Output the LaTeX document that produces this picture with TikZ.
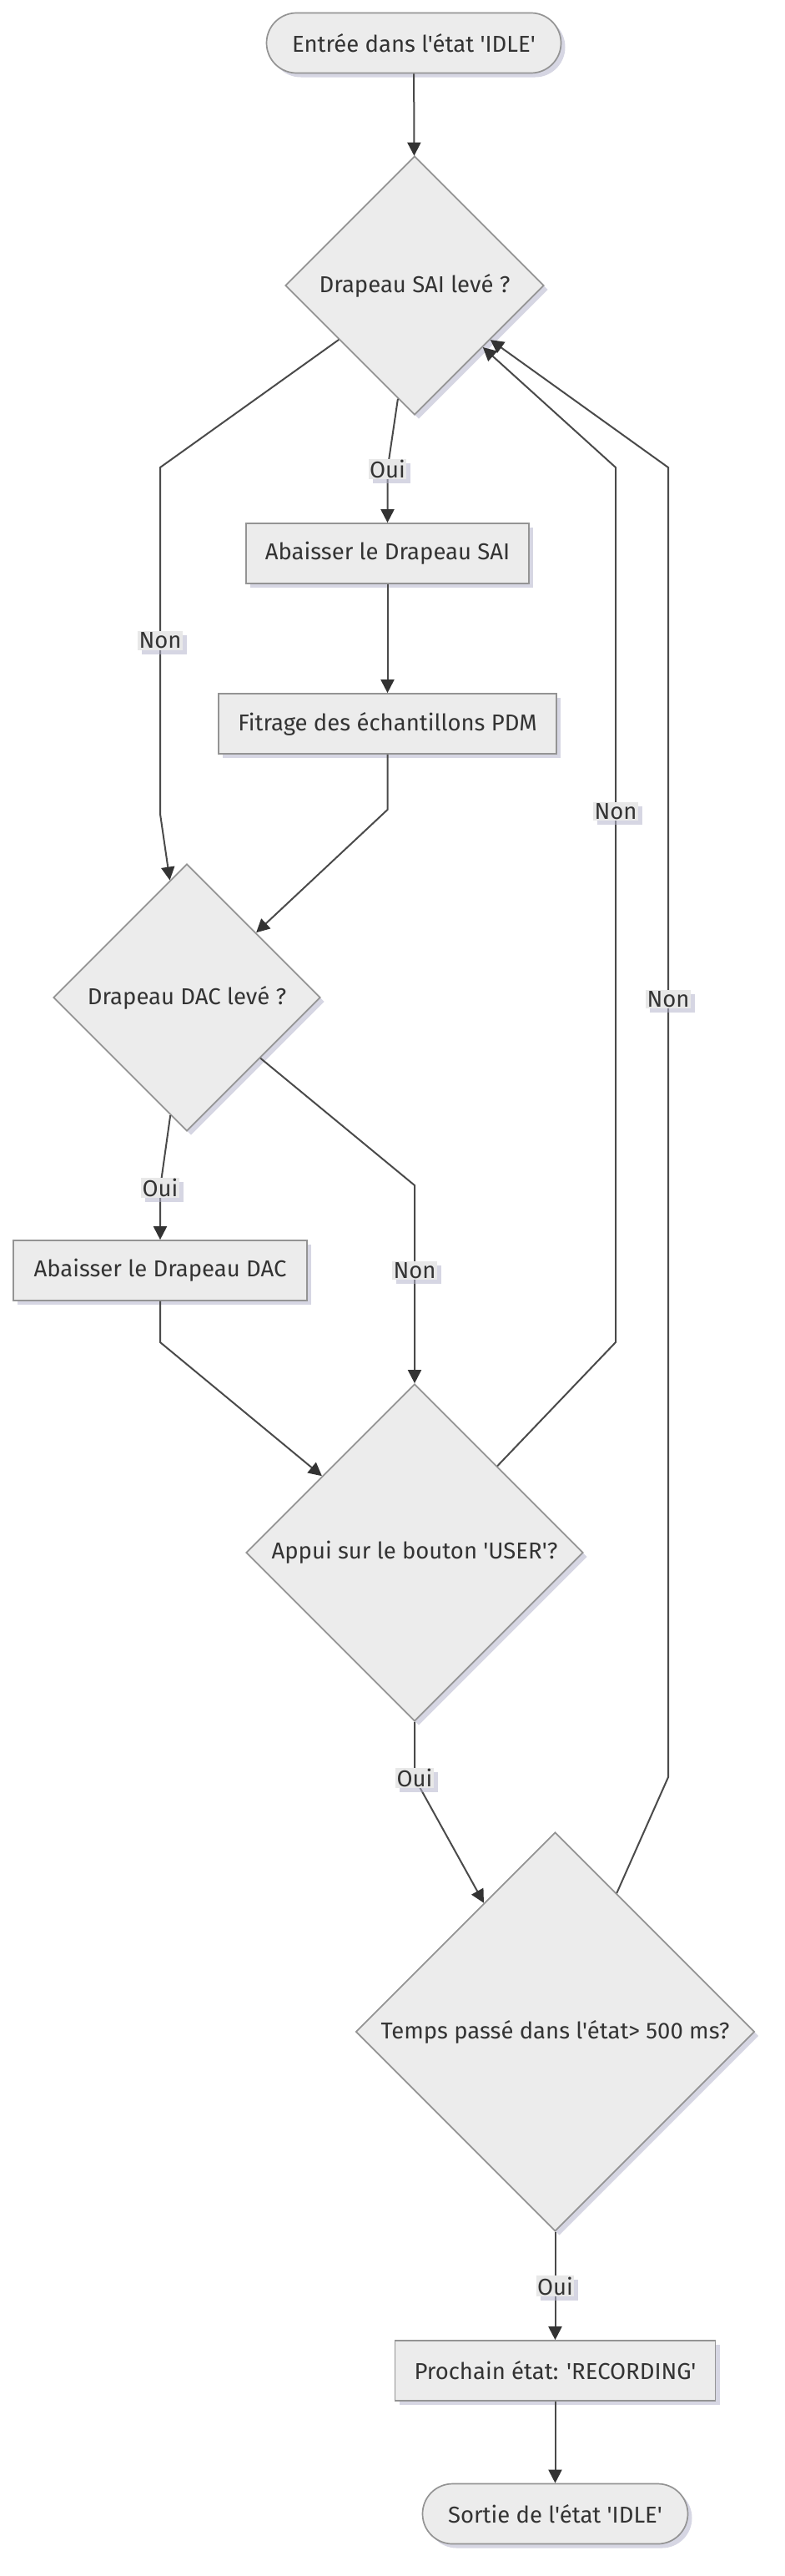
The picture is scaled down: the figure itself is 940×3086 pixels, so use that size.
\documentclass[tikz,border=0pt]{standalone}
\usepackage{fontspec}
\setmainfont{Fira Sans}[Ligatures=TeXOff]
\usepackage{tikz}
\usetikzlibrary{shapes,arrows.meta,positioning,shadows}

\definecolor{nodefill}{HTML}{ECECEC}
\definecolor{nodedraw}{HTML}{949494}
\definecolor{edgecol}{HTML}{4A4A4A}
\definecolor{tipcol}{HTML}{333333}
\definecolor{txtcol}{HTML}{333333}
\definecolor{shade}{HTML}{B4B4CC}
\definecolor{lblfill}{HTML}{E8E8E8}

\begin{document}
\begin{tikzpicture}[
    x=1pt, y=-1pt,
    font=\fontsize{27.5}{32}\selectfont,
    shady/.style={drop shadow={shadow xshift=5pt, shadow yshift=-5pt, fill=shade, opacity=0.55}},
    box/.style={rectangle, draw=nodedraw, fill=nodefill, line width=1.7pt, text=txtcol, minimum height=72pt, shady},
    terminal/.style={box, rounded corners=36pt},
    decision/.style={diamond, aspect=1, inner sep=0pt, draw=nodedraw, fill=nodefill, line width=1.7pt, text=txtcol, shady},
    lbl/.style={rectangle, fill=lblfill, text=txtcol, inner xsep=1.5pt, inner ysep=1.5pt, shady},
    arrow/.style={-{Triangle[length=16pt, width=16pt, color=tipcol]}, draw=edgecol, line width=2pt}
]
\useasboundingbox (0,0) rectangle (940,3086);

% Nodes
\node [terminal, minimum width=353pt] (start) at (496,51.5) {Entrée dans l'état 'IDLE'};
\node [decision, minimum size=310pt, node distance=290.5pt, below of=start, xshift=1pt] (sai) {Drapeau SAI levé ?};
\node [box, minimum width=339pt, node distance=321pt, below of=sai, xshift=-32.5pt] (absai) {Abaisser le Drapeau SAI};
\node [box, minimum width=405pt, node distance=204pt, below of=absai] (fitrage) {Fitrage des échantillons PDM};
\node [decision, minimum size=320pt, node distance=328pt, below of=fitrage, xshift=-240.5pt] (dac) {Drapeau DAC levé ?};
\node [box, minimum width=352pt, node distance=327pt, below of=dac, xshift=-32pt] (abdac) {Abaisser le Drapeau DAC};
\node [decision, minimum size=404pt, node distance=338pt, below of=abdac, xshift=305pt] (user) {Appui sur le bouton 'USER'?};
\node [decision, minimum size=478pt, node distance=574pt, below of=user, xshift=168.5pt] (temps) {Temps passé dans l'état> 500 ms?};
\node [box, minimum width=384pt, node distance=406pt, below of=temps] (prochain) {Prochain état: 'RECORDING'};
\node [terminal, minimum width=318pt, node distance=171.5pt, below of=prochain] (sortie) {Sortie de l'état 'IDLE'};

% Arrows
\draw [arrow] (start) -- (sai);
\draw [arrow] (sai) -- (192,560) -- node [lbl] {Non} (192,975) -- (dac);
\draw [arrow] (sai) -- (464.5,562) node [lbl] {Oui} -- (absai);
\draw [arrow] (absai) -- (fitrage);
\draw [arrow] (fitrage) -- (464.5,970) -- (dac);
\draw [arrow] (dac) -- (192,1423) node [lbl] {Oui} -- (abdac);
\draw [arrow] (dac) -- (497,1420) -- node [lbl, pos=0.43] {Non} (user);
\draw [arrow] (abdac) -- (192,1608) -- (user);
\draw [arrow] (user) -- (738,1608) -- node [lbl, pos=0.607] {Non} (738,560) -- (sai);
\draw [arrow] (user) -- (497,2130) node [lbl] {Oui} -- (temps);
\draw [arrow] (temps) -- (801,2129) -- node [lbl, pos=0.594] {Non} (801,560) -- (sai);
\draw [arrow] (temps) -- node [lbl] {Oui} (prochain);
\draw [arrow] (prochain) -- (sortie);

\end{tikzpicture}
\end{document}
